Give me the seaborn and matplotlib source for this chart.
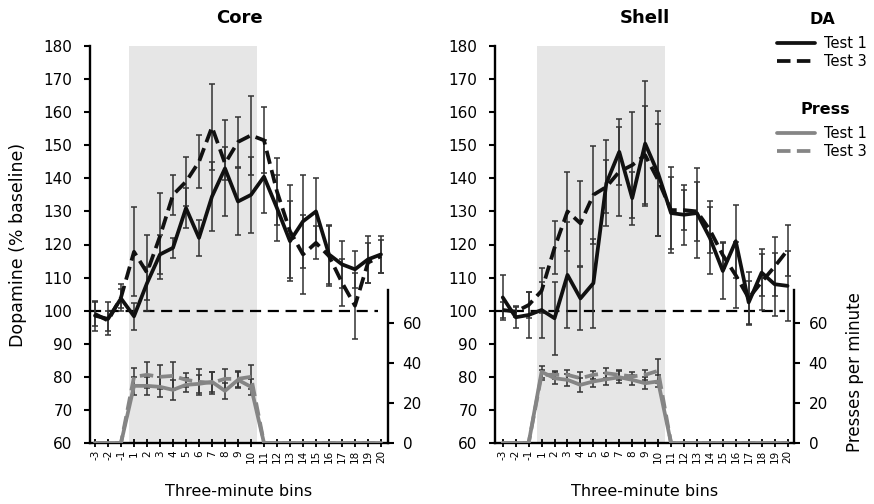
import numpy as np
import pandas as pd
import matplotlib
matplotlib.use("Agg")
import matplotlib.pyplot as plt
import seaborn as sns
from matplotlib.lines import Line2D

# ---------------- data ----------------
bins = [-3, -2, -1] + list(range(1, 21))
bin_labels = [str(b) for b in bins]

core_da_t1 = [98.5, 97.5, 103.7, 98.3, 108.3, 117, 119, 131, 122, 134.5, 143, 133, 135,
              140.5, 131, 121, 127, 130, 117, 114, 112.5, 115.5, 117]
core_da_t1_sem = [4.5, 5, 3, 4, 5, 6, 3, 6, 5.5, 10.5, 14.5, 10, 11.5,
                  11, 10, 12, 14, 10, 9, 7, 5.5, 7, 5.5]
core_da_t3 = [99, 97, 104, 117.8, 111.5, 122.5, 135, 139, 145, 155.5, 144.5, 151, 153,
              151.5, 136, 124, 117, 120.5, 116.5, 108.5, 101.5, 114.5, 116.5]
core_da_t3_sem = [3.5, 3, 4, 13.5, 11.5, 13, 6, 7.5, 8, 13, 5, 7.5, 12,
                  10, 10, 14, 12, 5, 9, 7, 10, 6, 5]
core_press_t1 = [0, 0, 0, 28.5, 28.5, 28, 26.5, 29, 29.5, 30.5, 26, 31.5, 28,
                 0, 0, 0, 0, 0, 0, 0, 0, 0, 0]
core_press_t1_sem = [0, 0, 0, 4.5, 4.5, 5, 5, 3.5, 4.5, 5, 4, 4, 4,
                     0, 0, 0, 0, 0, 0, 0, 0, 0, 0]
core_press_t3 = [0, 0, 0, 33, 34, 33, 33.5, 31.5, 30.5, 30, 32, 32, 33,
                 0, 0, 0, 0, 0, 0, 0, 0, 0, 0]
core_press_t3_sem = [0, 0, 0, 4.5, 6.5, 6, 7, 3.5, 6.5, 5.5, 5, 4, 6,
                     0, 0, 0, 0, 0, 0, 0, 0, 0, 0]

shell_da_t1 = [104, 98, 98.7, 100.2, 97.7, 110.8, 103.7, 108.3, 138.5, 148, 134, 150.5, 141.5,
               129.5, 129, 129.5, 122, 112, 121, 102.5, 111.5, 108, 107.5]
shell_da_t1_sem = [6.8, 3.3, 7, 8.6, 11, 16, 9.5, 13.5, 13, 10, 8, 19, 19,
                   11, 9, 13.5, 11, 8.5, 11, 6.5, 7, 9.5, 10.5]
shell_da_t3 = [100.2, 99.7, 101.7, 106, 119, 130, 126.4, 135, 137.4, 142, 144, 147, 139.5,
               130.4, 130.4, 130, 124.4, 116.8, 110.7, 103.8, 108.7, 113.3, 118.3]
shell_da_t3_sem = [2.5, 1.5, 4, 6.8, 8, 12, 12.8, 14.7, 8, 13.5, 16, 14.8, 17,
                   13, 6, 9, 7, 4, 10, 8, 8.5, 9, 7.7]
shell_press_t1 = [0, 0, 0, 35.5, 32.3, 31.5, 29, 30.7, 31.8, 32.8, 31.5, 29.8, 30.7,
                  0, 0, 0, 0, 0, 0, 0, 0, 0, 0]
shell_press_t1_sem = [0, 0, 0, 3, 3, 3, 3.5, 3, 3, 3, 2.5, 3, 3,
                      0, 0, 0, 0, 0, 0, 0, 0, 0, 0]
shell_press_t3 = [0, 0, 0, 34, 34, 34, 32.3, 34, 34.8, 34, 33.2, 34, 36,
                  0, 0, 0, 0, 0, 0, 0, 0, 0, 0]
shell_press_t3_sem = [0, 0, 0, 2.5, 2, 2.5, 3, 2, 2.5, 2.5, 2, 2.5, 6,
                      0, 0, 0, 0, 0, 0, 0, 0, 0, 0]

# ---------------- style ----------------
sns.set_style("ticks")
plt.rcParams["font.family"] = ["DejaVu Sans"]
plt.rcParams["text.color"] = "black"
plt.rcParams["axes.labelcolor"] = "black"
plt.rcParams["xtick.color"] = "black"
plt.rcParams["ytick.color"] = "black"

W, H = 874, 504
fig = plt.figure(figsize=(W / 100, H / 100), dpi=100)

BLACK = "#111111"
GRAY = "#858585"
ERR = "#333333"
SHADE = "#e6e6e6"


def fx(px):
    return px / W


def fy(py):
    return 1 - py / H


def panel(left_px, right_px, xlim, title, da1, da1e, da3, da3e, p1, p1e, p3, p3e, first):
    ax = fig.add_axes([fx(left_px), fy(443), (right_px - left_px) / W, (443 - 46) / H])
    pos = np.arange(len(bins))
    ax.set_xlim(*xlim)
    ax.set_ylim(60, 180)
    ax.axvspan(2.65, 12.5, color=SHADE, lw=0, zorder=0)
    ax.hlines(100, xlim[0], 21.8, colors="black", linestyles=(0, (5, 3)), lw=1.6, zorder=2)

    for vals, sem in ((da1, da1e), (da3, da3e)):
        ax.errorbar(pos, vals, yerr=sem, fmt="none", ecolor=ERR, elinewidth=1.1,
                    capsize=2.3, capthick=1.1, zorder=3)
    df = pd.DataFrame({"pos": np.concatenate([pos, pos]),
                       "val": np.concatenate([da1, da3]),
                       "test": ["Test 1"] * len(pos) + ["Test 3"] * len(pos)})
    sns.lineplot(data=df, x="pos", y="val", style="test",
                 dashes={"Test 1": "", "Test 3": (3.6, 1.7)},
                 color=BLACK, lw=2.7, ax=ax, legend=False, zorder=4)

    ax.set_xticks(pos)
    ax.set_xticklabels(bin_labels)
    ax.set_yticks(np.arange(60, 181, 10))
    ax.tick_params(axis="y", direction="out", length=4.5, width=1.5, pad=8,
                   labelsize=11, colors="black")
    ax.tick_params(axis="x", direction="inout", length=6, width=1.3, pad=2,
                   labelsize=7.5, labelrotation=90, colors="black")
    for s in ("top", "right"):
        ax.spines[s].set_visible(False)
    for s in ("left", "bottom"):
        ax.spines[s].set_linewidth(1.7)
        ax.spines[s].set_color("black")

    ax.set_xlabel("Three-minute bins", fontsize=11.5, color="black")
    ax.xaxis.set_label_coords(0.5, (443 - 492) / 397)
    ax.xaxis.label.set_va("center")
    if first:
        ax.set_ylabel("Dopamine (% baseline)", fontsize=12.5, color="black")
        ax.yaxis.set_label_coords((18 - left_px) / (right_px - left_px), 0.5)
        ax.yaxis.label.set_va("center")
    else:
        ax.set_ylabel("")
    ax.text(0.5, (443 - 18) / 397, title, transform=ax.transAxes, ha="center",
            va="center", fontsize=13, fontweight="bold", color="black")

    ax2 = ax.twinx()
    ax2.set_ylim(0, 198)
    for vals, sem in ((p1, p1e), (p3, p3e)):
        vals = np.asarray(vals, float)
        sem = np.asarray(sem, float)
        m = sem > 0
        ax2.errorbar(pos[m], vals[m], yerr=sem[m], fmt="none", ecolor=ERR,
                     elinewidth=1.1, capsize=2.3, capthick=1.1, zorder=3)
    dfp = pd.DataFrame({"pos": np.concatenate([pos, pos]),
                        "val": np.concatenate([p1, p3]),
                        "test": ["Test 1"] * len(pos) + ["Test 3"] * len(pos)})
    sns.lineplot(data=dfp, x="pos", y="val", style="test",
                 dashes={"Test 1": "", "Test 3": (3.6, 1.7)},
                 color=GRAY, lw=2.7, ax=ax2, legend=False, zorder=4)
    ax2.set_yticks([0, 20, 40, 60])
    for s in ("top", "left", "bottom"):
        ax2.spines[s].set_visible(False)
    ax2.spines["right"].set_bounds(0, 76.5)
    ax2.spines["right"].set_linewidth(1.7)
    ax2.spines["right"].set_color("black")
    ax2.tick_params(axis="y", direction="out", length=4.5, width=1.5, pad=6,
                    labelsize=11, colors="black")
    ax2.set_xlabel("")
    if not first:
        ax2.set_ylabel("Presses per minute", fontsize=12, color="black")
        ax2.yaxis.set_label_coords((855 - left_px) / (right_px - left_px), (443 - 372) / 397)
        ax2.yaxis.label.set_va("center")
    else:
        ax2.set_ylabel("")
    return ax, ax2


panel(90, 388, (-0.385, 22.54), "Core", core_da_t1, core_da_t1_sem, core_da_t3, core_da_t3_sem,
      core_press_t1, core_press_t1_sem, core_press_t3, core_press_t3_sem, True)
panel(495, 794, (-0.6, 22.5), "Shell", shell_da_t1, shell_da_t1_sem, shell_da_t3, shell_da_t3_sem,
      shell_press_t1, shell_press_t1_sem, shell_press_t3, shell_press_t3_sem, False)

# ---------------- legend ----------------
fig.text(fx(822), fy(20), "DA", ha="center", va="center", fontsize=11.5, fontweight="bold")
fig.text(fx(825), fy(110), "Press", ha="center", va="center", fontsize=11.5, fontweight="bold")
leg = [(43, BLACK, "-", "Test 1"), (61, BLACK, (0, (3.6, 1.7)), "Test 3"),
       (133, GRAY, "-", "Test 1"), (151, GRAY, (0, (3.6, 1.7)), "Test 3")]
for yy, c, ls, lab in leg:
    fig.add_artist(Line2D([fx(777), fx(815)], [fy(yy), fy(yy)], transform=fig.transFigure,
                          color=c, lw=2.7, linestyle=ls))
    fig.text(fx(824), fy(yy), lab, ha="left", va="center", fontsize=10.5)

fig.savefig("out.png", dpi=100)
